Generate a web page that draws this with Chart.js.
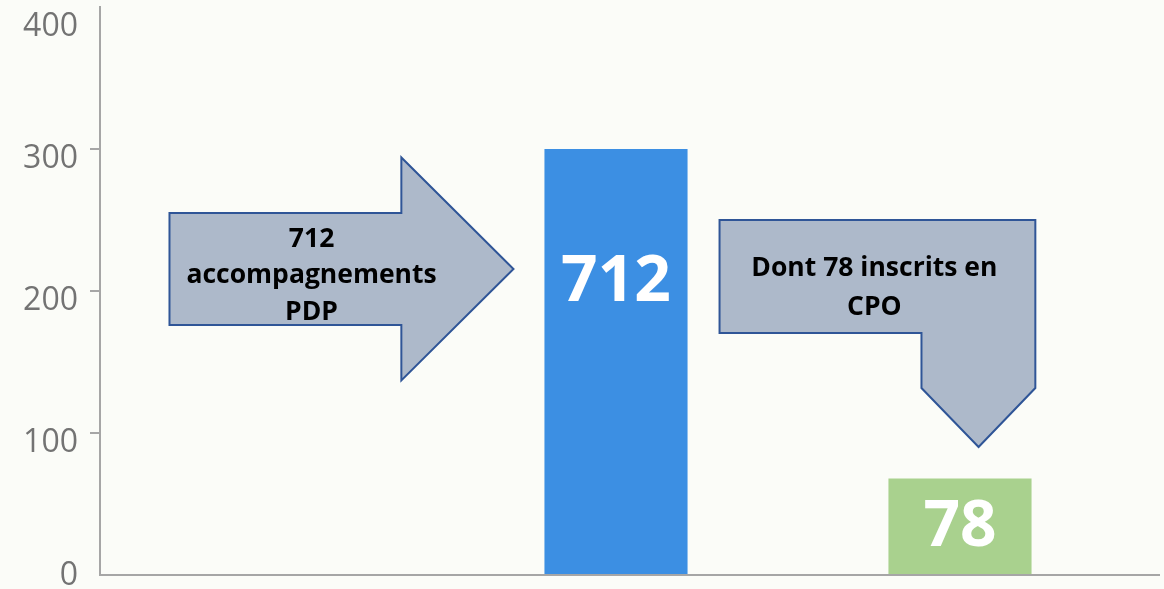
<!DOCTYPE html>
<html><head><meta charset="utf-8">
<script src="https://cdn.jsdelivr.net/npm/chart.js@4"></script>
<style>html,body{margin:0;padding:0;background:#fbfcf8;} #wrap{width:1164px;height:589px;position:relative;}</style>
</head><body><div id="wrap"><canvas id="c"></canvas></div>
<script>
const categories = ['', 'PDP', 'CPO'];
const barValues = [null, 300, 68];
const barLabels = ['', '712', '78'];
const yTickValues = [0, 100, 200, 300, 400];
const arrowTexts = [['712', 'accompagnements', 'PDP'], ['Dont 78 inscrits en', 'CPO']];

const AXIS = '#a6a6a6';
const ARROW_FILL = '#adb9ca';
const ARROW_STROKE = '#2f5597';

// annotation shapes in (category units, value units)
const shapes = [
  { pts: [[-0.298,255],[0.376,255],[0.376,294],[0.702,215.5],[0.376,137],[0.376,176],[-0.298,176]],
    textX: 0.115, textY: [236, 210.6, 185.2], lines: arrowTexts[0] },
  { pts: [[1.301,250],[2.219,250],[2.219,131.7],[2.054,90.1],[1.888,131.7],[1.888,170.4],[1.301,170.4]],
    textX: 1.751, textY: [216.2, 188.7], lines: arrowTexts[1] }
];
const labelAt = [null, 206, 33];

const bgPlugin = {
  id: 'bg',
  beforeDraw(chart) {
    const c = chart.ctx; c.save(); c.fillStyle = '#fbfcf8';
    c.fillRect(0, 0, chart.width, chart.height); c.restore();
  }
};

const annPlugin = {
  id: 'ann',
  afterDatasetsDraw(chart) {
    const c = chart.ctx, xs = chart.scales.x, ys = chart.scales.y;
    const x0 = xs.getPixelForValue(0), dx = xs.getPixelForValue(1) - x0;
    const px = u => x0 + u * dx, py = v => ys.getPixelForValue(v);
    c.save();
    shapes.forEach(s => {
      c.beginPath();
      s.pts.forEach((p, i) => { const X = px(p[0]), Y = py(p[1]); i ? c.lineTo(X, Y) : c.moveTo(X, Y); });
      c.closePath();
      c.fillStyle = ARROW_FILL; c.fill();
      c.lineWidth = 2; c.strokeStyle = ARROW_STROKE; c.lineJoin = 'miter'; c.stroke();
      c.fillStyle = '#000'; c.font = 'bold 26.5px "Open Sans"';
      c.textAlign = 'center'; c.textBaseline = 'middle';
      s.lines.forEach((t, i) => c.fillText(t, px(s.textX), py(s.textY[i])));
    });
    // bar labels
    const meta = chart.getDatasetMeta(0);
    c.fillStyle = '#fff'; c.font = 'bold 64px "Open Sans"';
    c.textAlign = 'center'; c.textBaseline = 'middle';
    meta.data.forEach((bar, i) => {
      if (!barLabels[i] || labelAt[i] == null) return;
      c.fillText(barLabels[i], bar.x, py(labelAt[i]));
    });
    c.restore();
  },
  afterDraw(chart) {
    // extend the x-axis line to the right edge of the plot frame
    const c = chart.ctx, a = chart.chartArea;
    c.save(); c.strokeStyle = AXIS; c.lineWidth = 2;
    c.beginPath(); c.moveTo(a.right - 1, a.bottom); c.lineTo(1160, a.bottom); c.stroke();
    c.restore();
  }
};

const lastTick = yTickValues[yTickValues.length - 1];
const firstTick = yTickValues[0];

new Chart(document.getElementById('c'), {
  type: 'bar',
  data: {
    labels: categories,
    datasets: [{
      data: barValues,
      backgroundColor: ['rgba(0,0,0,0)', '#3c8fe3', '#a9d18e'],
      borderWidth: 0,
      categoryPercentage: 1,
      barPercentage: 0.416
    }]
  },
  options: {
    responsive: true,
    maintainAspectRatio: false,
    animation: false,
    layout: { padding: { top: 7, right: 32, left: 0, bottom: 0 } },
    plugins: { legend: { display: false }, tooltip: { enabled: false } },
    scales: {
      x: {
        grid: { display: false },
        ticks: { display: false },
        border: { display: true, color: AXIS, width: 2 },
        afterFit(s) { s.height = 14; s.paddingLeft = 0; s.paddingRight = 0; }
      },
      y: {
        min: 0, max: 400,
        afterBuildTicks(s) { s.ticks = yTickValues.map(v => ({ value: v })); },
        grid: {
          drawOnChartArea: false, drawTicks: true, tickLength: 10, lineWidth: 2,
          color: ctx => (ctx.tick && (ctx.tick.value === lastTick || ctx.tick.value === firstTick)) ? 'rgba(0,0,0,0)' : AXIS
        },
        border: { display: true, color: AXIS, width: 2 },
        ticks: {
          callback: v => v === lastTick ? ['', String(v)] : (v === firstTick ? [String(v), ''] : String(v)),
          font: ctx => {
            const v = ctx.tick ? ctx.tick.value : null;
            const lh = v === lastTick ? '20px' : (v === firstTick ? '18px' : 1.2);
            return { family: '"Open Sans"', size: 32, lineHeight: lh };
          },
          color: '#737373',
          padding: 12,
          labelOffset: 10
        },
        afterFit(s) { s.width = 100; s.paddingTop = 0; s.paddingBottom = 0; }
      }
    }
  },
  plugins: [bgPlugin, annPlugin]
});
</script></body></html>
